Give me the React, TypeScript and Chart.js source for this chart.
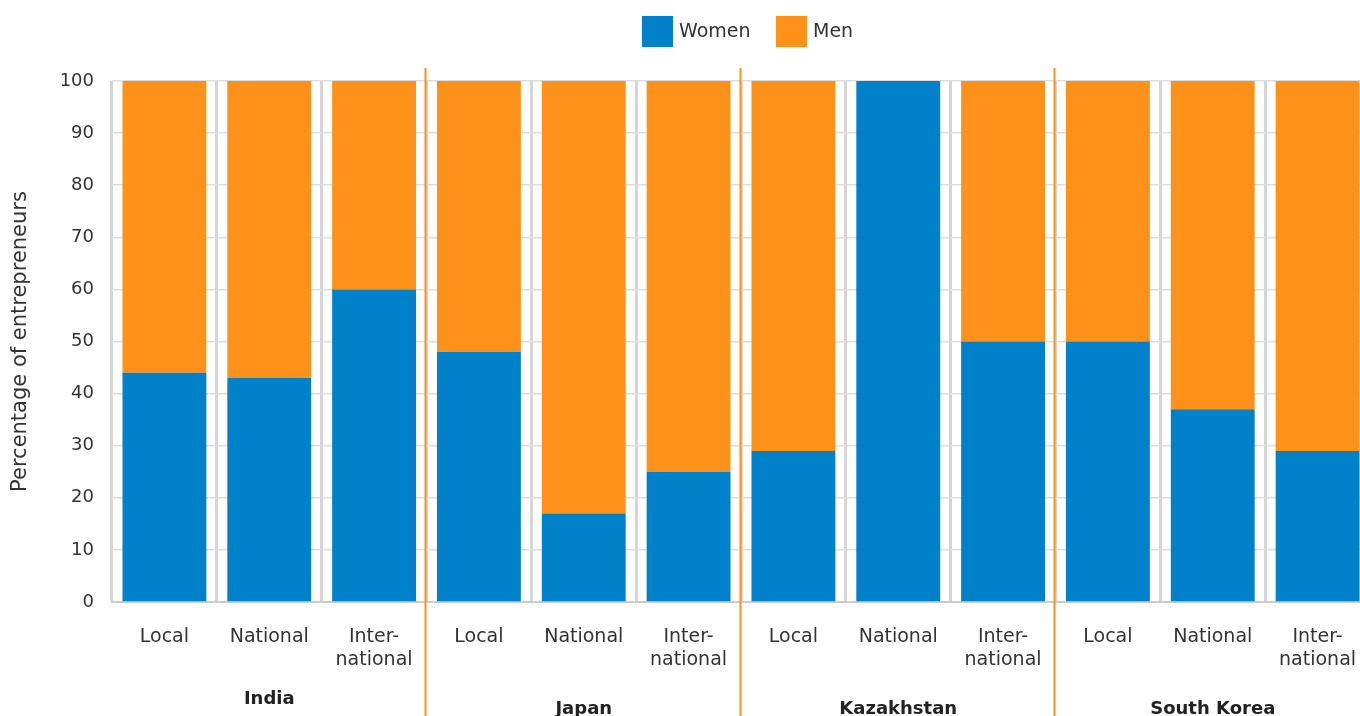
import React, { useEffect, useRef } from "react";
import { Chart, registerables } from "chart.js";

Chart.register(...registerables);

const categories: string[][] = [
  ["Local"], ["National"], ["Inter-", "national"],
  ["Local"], ["National"], ["Inter-", "national"],
  ["Local"], ["National"], ["Inter-", "national"],
  ["Local"], ["National"], ["Inter-", "national"],
];
const countries = ["India", "Japan", "Kazakhstan", "South Korea"];
const womenValues = [44, 43, 60, 48, 17, 25, 29, 100, 50, 50, 37, 29];
const menValues = [56, 57, 40, 52, 83, 75, 71, 0, 50, 50, 63, 71];
const seriesNames = ["Women", "Men"];
const yTicks = [0, 10, 20, 30, 40, 50, 60, 70, 80, 90, 100];

const BLUE = "#0081C9";
const ORANGE = "#FD911A";
const FONT = "'DejaVu Sans', sans-serif";
const TEXT = "#333333";

const overlayPlugin = {
  id: "overlay",
  afterDatasetsDraw(chart: any) {
    const { ctx, scales } = chart;
    const x = scales.x;
    const H = chart.height;
    ctx.save();
    ctx.strokeStyle = ORANGE;
    ctx.lineWidth = 2;
    for (let g = 1; g < countries.length; g++) {
      const i = g * 3;
      const px = Math.floor((x.getPixelForValue(i - 1) + x.getPixelForValue(i)) / 2) - 0.5;
      ctx.beginPath();
      ctx.moveTo(px, 68);
      ctx.lineTo(px, H);
      ctx.stroke();
    }
    ctx.fillStyle = "#222";
    ctx.font = `bold 18px ${FONT}`;
    ctx.textAlign = "center";
    ctx.textBaseline = "middle";
    countries.forEach((c, g) => {
      const cx = x.getPixelForValue(g * 3 + 1);
      const cy = g === 0 ? 699 : 709;
      ctx.fillText(c, cx, cy);
    });
    ctx.font = `19px ${FONT}`;
    ctx.textAlign = "left";
    const colors = [BLUE, ORANGE];
    const xs = [642, 776];
    seriesNames.forEach((n, k) => {
      ctx.fillStyle = colors[k];
      ctx.fillRect(xs[k], 16, 31, 31);
      ctx.fillStyle = TEXT;
      ctx.fillText(n, xs[k] + 37, 32);
    });
    ctx.restore();
  },
};

export default function App() {
  const ref = useRef<HTMLCanvasElement>(null);
  useEffect(() => {
    document.body.style.margin = "0";
    const chart = new Chart(ref.current as HTMLCanvasElement, {
      type: "bar",
      data: {
        labels: categories,
        datasets: [
          { label: seriesNames[0], data: womenValues, backgroundColor: BLUE, barPercentage: 0.8, categoryPercentage: 1.0 },
          { label: seriesNames[1], data: menValues, backgroundColor: ORANGE, barPercentage: 0.8, categoryPercentage: 1.0 },
        ],
      },
      options: {
        animation: false,
        responsive: false,
        maintainAspectRatio: false,
        layout: { padding: { top: 81, right: 0, left: 0, bottom: 0 } },
        plugins: { legend: { display: false }, tooltip: { enabled: false } },
        scales: {
          x: {
            stacked: true,
            grid: { color: "#d6d6d6", lineWidth: 3, drawTicks: false, offset: true },
            border: { color: "#cccccc", width: 2 },
            ticks: { color: TEXT, font: { family: FONT, size: 19, lineHeight: 1.2 }, padding: 24, maxRotation: 0, autoSkip: false },
            afterFit(scale: any) { scale.height = 114; scale.paddingRight = 0; scale.paddingLeft = 0; },
          },
          y: {
            stacked: true,
            min: 0,
            max: 100,
            afterBuildTicks(scale: any) { scale.ticks = yTicks.map((v) => ({ value: v })); },
            grid: { color: "#dddddd", lineWidth: 1.5, drawTicks: false },
            border: { display: false },
            ticks: { color: TEXT, font: { family: FONT, size: 18 }, padding: 18 },
            title: { display: true, text: "Percentage of entrepreneurs", color: TEXT, font: { family: FONT, size: 21 }, padding: { top: 8, bottom: 0 } },
            afterFit(scale: any) { scale.width = 112; scale.paddingTop = 0; scale.paddingBottom = 0; },
          },
        },
      },
      plugins: [overlayPlugin],
    } as any);
    return () => chart.destroy();
  }, []);
  return (
    <div style={{ position: "absolute", left: 0, top: 0, width: 1360, height: 716, overflow: "hidden" }}>
      <canvas ref={ref} width={1370} height={716} style={{ display: "block" }} />
    </div>
  );
}
